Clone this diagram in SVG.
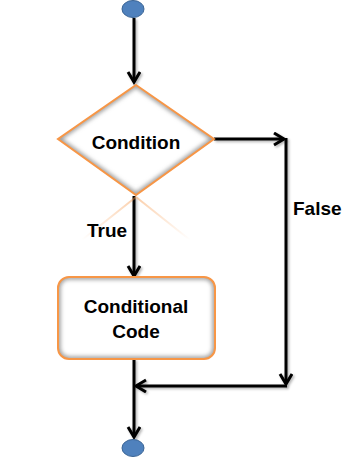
<svg xmlns="http://www.w3.org/2000/svg" width="346" height="472" viewBox="0 0 346 472">
<style>
.conn{fill:none;stroke:#000;stroke-width:3;filter:url(#sh)}
.lbl{font-family:"Liberation Sans",Arial,sans-serif;font-weight:bold;font-size:19px;fill:#000}
.term{fill:#4f81bd;stroke:#3a6494;stroke-width:1}
.shape{fill:none;stroke:#f79646;stroke-width:2}
.inner{fill:none;stroke:#9a9a9a;stroke-width:5;filter:url(#bl)}
</style>
<defs>
<marker id="arr" markerUnits="userSpaceOnUse" markerWidth="16" markerHeight="16" refX="11" refY="7" orient="auto" viewBox="0 0 16 16">
<path d="M1,1 L11,7 L1,13" fill="none" stroke="#000" stroke-width="3"/>
</marker>
<filter id="sh" filterUnits="userSpaceOnUse" x="0" y="0" width="346" height="472">
<feDropShadow dx="1.5" dy="1.5" stdDeviation="1" flood-color="#000" flood-opacity="0.3"/>
</filter>
<filter id="bl"><feGaussianBlur stdDeviation="2"/></filter>
<clipPath id="dclip"><polygon points="136,85 214,139 136,195 58,139"/></clipPath>
<clipPath id="bclip"><rect x="58" y="277" width="157" height="82" rx="11"/></clipPath>
<linearGradient id="refl" x1="0" y1="0" x2="0" y2="1">
<stop offset="0" stop-color="#f79646" stop-opacity="0.45"/>
<stop offset="1" stop-color="#f79646" stop-opacity="0"/>
</linearGradient>
</defs>

<g id="connectors">
<line class="conn" x1="134" y1="18" x2="134" y2="82" marker-end="url(#arr)"/>
<line class="conn" x1="134" y1="196" x2="134" y2="276" marker-end="url(#arr)"/>
<line class="conn" x1="214" y1="139" x2="284" y2="139" marker-end="url(#arr)"/>
<line class="conn" x1="286" y1="138" x2="286" y2="384" marker-end="url(#arr)"/>
<line class="conn" x1="287" y1="386" x2="136" y2="386" marker-end="url(#arr)"/>
<line class="conn" x1="134" y1="359" x2="134" y2="437" marker-end="url(#arr)"/>
</g>

<g id="start">
<ellipse class="term" cx="133" cy="9" rx="11" ry="8.5"/>
</g>

<g id="condition">
<polygon points="136,85 214,139 136,195 58,139" fill="#fff"/>
<polygon class="inner" points="136,85 214,139 136,195 58,139" clip-path="url(#dclip)"/>
<polygon class="shape" points="136,85 214,139 136,195 58,139"/>
<path d="M136,197 L82,240 M136,197 L190,240" stroke="url(#refl)" stroke-width="2" fill="none"/>
<text class="lbl" x="136" y="149" text-anchor="middle">Condition</text>
</g>

<g id="true-label">
<text class="lbl" x="107" y="237" text-anchor="middle">True</text>
</g>

<g id="false-label">
<text class="lbl" x="293" y="215">False</text>
</g>

<g id="code">
<rect x="58" y="277" width="157" height="82" rx="11" fill="#fff"/>
<rect class="inner" x="58" y="277" width="157" height="82" rx="11" clip-path="url(#bclip)"/>
<rect class="shape" x="58" y="277" width="157" height="82" rx="11"/>
<text class="lbl" x="136" y="313" text-anchor="middle">Conditional</text>
<text class="lbl" x="136" y="338" text-anchor="middle">Code</text>
</g>

<g id="end">
<ellipse class="term" cx="133" cy="448" rx="11" ry="8.5"/>
</g>
</svg>
